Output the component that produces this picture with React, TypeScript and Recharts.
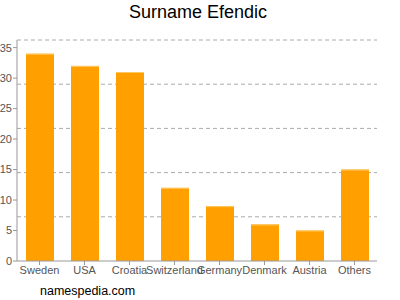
import React from "react";
import { BarChart, Bar, XAxis, YAxis, CartesianGrid } from "recharts";

const categories = ["Sweden", "USA", "Croatia", "Switzerland", "Germany", "Denmark", "Austria", "Others"];
const counts = [34, 32, 31, 12, 9, 6, 5, 15];
const yTicks = [0, 5, 10, 15, 20, 25, 30, 35];
const yMax = 36.25;
const gridValues = [7.25, 14.5, 21.75, 29, 36.25];

const data = categories.map((name, i) => ({ name, value: counts[i] }));

const BarShape = (props: any) => {
  const { x, y, width, height } = props;
  return (
    <g>
      <rect x={x} y={y} width={width} height={height} fill="#ffa000" />
      <rect x={x} y={y} width={width} height={1} fill="#ffc860" />
    </g>
  );
};

const font = "'Liberation Sans', Arial, Helvetica, sans-serif";

export default function App() {
  return (
    <div style={{ position: "absolute", left: 0, top: 0, width: 400, height: 300, background: "#fff", fontFamily: font }}>
      <div style={{ position: "absolute", left: 0, top: 2, width: 396, textAlign: "center", fontSize: 18, color: "#000" }}>
        Surname Efendic
      </div>
      <BarChart
        width={400}
        height={300}
        data={data}
        margin={{ top: 40, right: 23, bottom: 9, left: 0 }}
        barSize={28}
      >
        <CartesianGrid
          horizontal={true}
          vertical={false}
          horizontalValues={gridValues}
          stroke="#aaaaaa"
          strokeDasharray="4 3"
        />
        <XAxis
          dataKey="name"
          interval={0}
          tickSize={4}
          tickMargin={1}
          height={30}
          stroke="#999999"
          tick={{ fill: "#555555", fontSize: 11, fontFamily: font }}
        />
        <YAxis
          domain={[0, yMax]}
          ticks={yTicks}
          width={17}
          tickSize={4}
          tickMargin={1}
          stroke="#999999"
          allowDataOverflow={true}
          tick={{ fill: "#555555", fontSize: 11, fontFamily: font }}
        />
        <Bar dataKey="value" isAnimationActive={false} shape={<BarShape />} />
      </BarChart>
      <div style={{ position: "absolute", left: 40, top: 284, fontSize: 12.5, color: "#000" }}>
        namespedia.com
      </div>
    </div>
  );
}
